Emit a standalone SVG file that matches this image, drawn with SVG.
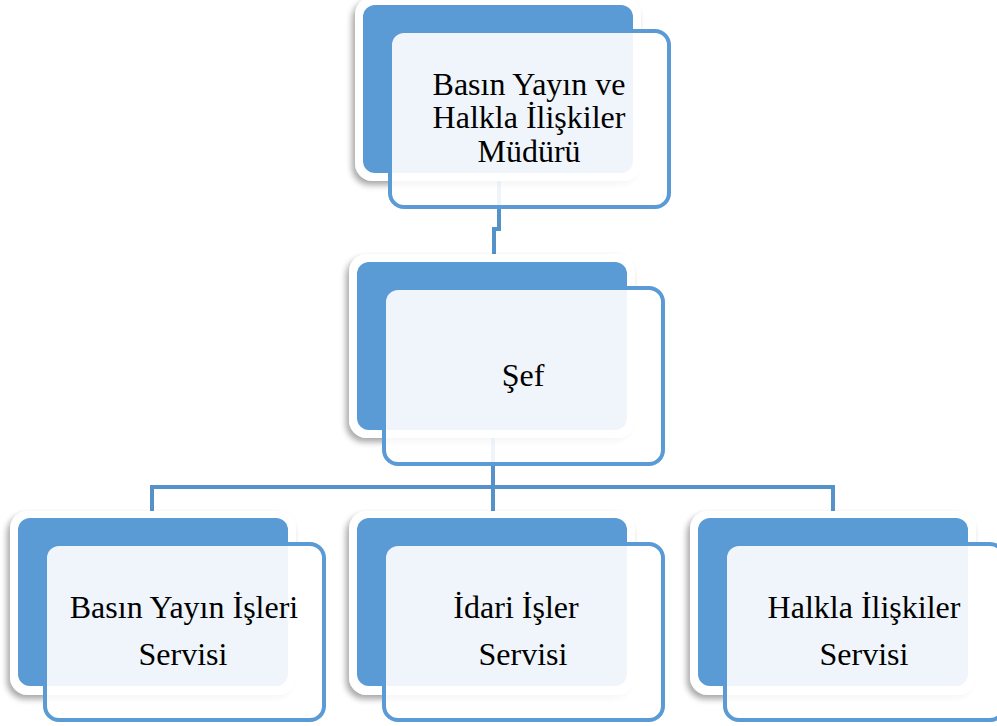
<svg xmlns="http://www.w3.org/2000/svg" width="997" height="726" viewBox="0 0 997 726">
<defs>
<filter id="sh" x="-10%" y="-10%" width="120%" height="125%">
<feGaussianBlur in="SourceAlpha" stdDeviation="3"/>
<feOffset dx="-3" dy="4" result="b"/>
<feComponentTransfer><feFuncA type="linear" slope="0.35"/></feComponentTransfer>
<feMerge><feMergeNode/><feMergeNode in="SourceGraphic"/></feMerge>
</filter>
<style>
.halo{fill:#FFFFFF;filter:url(#sh)}
.back{fill:#5B9BD5}
.front{fill:#FFFFFF;fill-opacity:0.9;stroke:#5B9BD5;stroke-width:4}
.conn{fill:none;stroke:#5592CA;stroke-width:4}
</style>
</defs>
<rect width="997" height="726" fill="#FFFFFF"/>
<g id="connectors">
<path class="conn" d="M499 175 V229 H494 V262"/>
<path class="conn" d="M493 430 V512 M152 512 V487 H833 V512"/>
</g>
<g font-family="Liberation Serif, Times New Roman, serif" font-size="32" fill="#000000" text-anchor="middle">
<g id="node-mudur">
<rect class="halo" x="355" y="-3" width="286" height="184" rx="18"/>
<rect class="back" x="363" y="5" width="270" height="168" rx="12"/>
<rect class="front" x="390" y="31" width="279" height="176" rx="14"/>
<text x="529" y="95">Basın Yayın ve</text>
<text x="529" y="128">Halkla İlişkiler</text>
<text x="529" y="162">Müdürü</text>
</g>
<g id="node-sef">
<rect class="halo" x="349" y="254" width="286" height="184" rx="18"/>
<rect class="back" x="357" y="262" width="270" height="168" rx="12"/>
<rect class="front" x="384" y="288" width="279" height="176" rx="14"/>
<text x="523" y="386">Şef</text>
</g>
<g id="node-basin">
<rect class="halo" x="10" y="511" width="286" height="184" rx="18"/>
<rect class="back" x="18" y="518" width="270" height="168" rx="12"/>
<rect class="front" x="45" y="544" width="279" height="176" rx="14"/>
<text x="184" y="618">Basın Yayın İşleri</text>
<text x="183" y="665">Servisi</text>
</g>
<g id="node-idari">
<rect class="halo" x="349" y="511" width="286" height="184" rx="18"/>
<rect class="back" x="357" y="518" width="270" height="168" rx="12"/>
<rect class="front" x="384" y="544" width="279" height="176" rx="14"/>
<text x="516" y="618">İdari İşler</text>
<text x="523" y="665">Servisi</text>
</g>
<g id="node-halkla">
<rect class="halo" x="690" y="511" width="286" height="184" rx="18"/>
<rect class="back" x="698" y="518" width="270" height="168" rx="12"/>
<rect class="front" x="725" y="544" width="279" height="176" rx="14"/>
<text x="864" y="618">Halkla İlişkiler</text>
<text x="864" y="665">Servisi</text>
</g>
</g>
</svg>
